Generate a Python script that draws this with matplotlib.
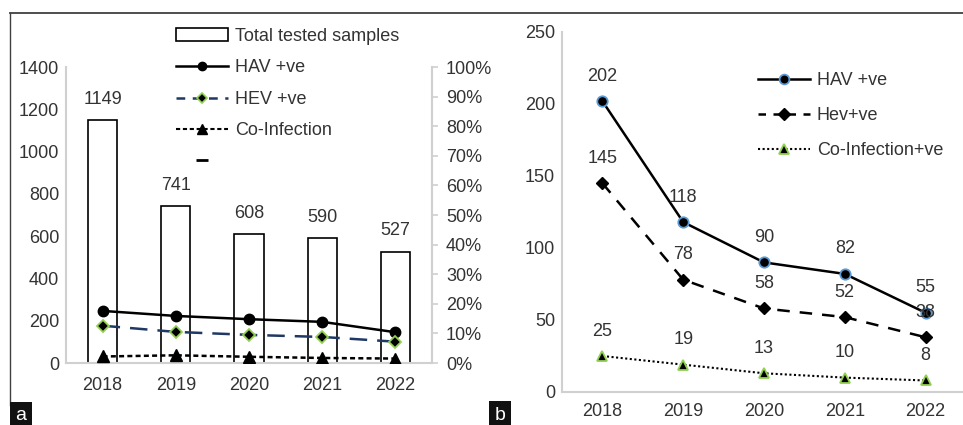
import matplotlib
matplotlib.use("Agg")
import matplotlib.pyplot as plt
from matplotlib.lines import Line2D
from matplotlib.patches import Patch

plt.rcParams['font.family'] = ['Liberation Sans', 'DejaVu Sans']

years = ["2018", "2019", "2020", "2021", "2022"]

# panel a
total_samples = [1149, 741, 608, 590, 527]
hav_pct = [17.6, 15.9, 14.8, 13.9, 10.4]
hev_pct = [12.6, 10.5, 9.5, 8.8, 7.2]
coinf_pct = [2.2, 2.6, 2.1, 1.7, 1.5]

# panel b
hav_pos = [202, 118, 90, 82, 55]
hev_pos = [145, 78, 58, 52, 38]
coinf_pos = [25, 19, 13, 10, 8]

W, H = 963, 425
TXT = "#333333"
SPINE = "#d0d0d0"
GREEN = "#92d050"
NAVY = "#1f3864"
FS = 13

fig = plt.figure(figsize=(W / 100, H / 100), dpi=100)


def fx(px):
    return px / W


def fy(py):
    return 1 - py / H


def style_axis(ax):
    for s in ["top", "right"]:
        ax.spines[s].set_visible(False)
    for s in ["left", "bottom"]:
        ax.spines[s].set_color(SPINE)
        ax.spines[s].set_linewidth(1.5)
    ax.tick_params(axis="both", length=0, labelsize=FS, colors=TXT)


# ---------- panel a ----------
ax1 = fig.add_axes([fx(66), fy(363), fx(432 - 66), fy(67) - fy(363)])
x = list(range(len(years)))
ax1.bar(x, total_samples, width=0.4, color="white", edgecolor="black",
        linewidth=1.2, zorder=1)
for xi, v in zip(x, total_samples):
    ax1.annotate(str(v), (xi, v), xytext=(0, 15), textcoords="offset points",
                 ha="center", va="center", fontsize=FS, color=TXT)
ax1.set_xlim(-0.5, 4.5)
ax1.set_ylim(0, 1400)
ax1.set_yticks(range(0, 1401, 200))
ax1.set_xticks(x)
ax1.set_xticklabels(years)
style_axis(ax1)
ax1.tick_params(axis="x", pad=10)
ax1.tick_params(axis="y", pad=5)

ax2 = ax1.twinx()
ax2.set_ylim(0, 100)
ax2.set_yticks(range(0, 101, 10))
ax2.set_yticklabels([f"{t}%" for t in range(0, 101, 10)])
for s in ["top", "left", "bottom"]:
    ax2.spines[s].set_visible(False)
ax2.spines["right"].set_color(SPINE)
ax2.spines["right"].set_linewidth(1.5)
ax2.tick_params(axis="y", length=4, width=1.2, color=SPINE, labelsize=FS,
                labelcolor=TXT, pad=6)

ax2.plot(x, hav_pct, color="black", lw=1.8, marker="o", ms=7.5,
         mfc="black", mec="black", zorder=4)
ax2.plot(x, hev_pct, color=NAVY, lw=1.8, dashes=(7, 4), marker="D", ms=6,
         mfc="black", mec=GREEN, mew=1.3, zorder=4)
ax2.plot(x, coinf_pct, color="black", lw=1.8, dashes=(2, 1.3), marker="^",
         ms=9, mfc="black", mec="black", zorder=4)

handles_a = [
    Patch(facecolor="white", edgecolor="black", linewidth=1.2),
    Line2D([], [], color="black", lw=1.8, marker="o", ms=6),
    Line2D([], [], color=NAVY, lw=1.8, dashes=(3.5, 3), marker="D", ms=5,
           mfc="black", mec=GREEN, mew=1.2),
    Line2D([], [], color="black", lw=1.5, dashes=(2, 1.3), marker="^", ms=7),
    Line2D([], [], color="black", marker="_", ms=8, mew=2, linestyle="none"),
]
labels_a = ["Total tested samples", "HAV +ve", "HEV +ve", "Co-Infection", ""]
fig.legend(handles_a, labels_a, loc="upper left",
           bbox_to_anchor=(fx(176), fy(28)), frameon=False, fontsize=FS,
           handlelength=2.9, handletextpad=0.35, labelspacing=0.8,
           borderpad=0, borderaxespad=0, labelcolor=TXT)

# ---------- panel b ----------
ax3 = fig.add_axes([fx(562), fy(392), fx(966 - 562), fy(32) - fy(392)])
ax3.plot(x, hav_pos, color="black", lw=1.8, marker="o", ms=7.5,
         mfc="black", mec="#5b9bd5", mew=1.3, zorder=4)
ax3.plot(x, hev_pos, color="black", lw=1.8, dashes=(5, 4), marker="D",
         ms=6, mfc="black", mec="black", zorder=4)
ax3.plot(x, coinf_pos, color="black", lw=1.5, dashes=(1, 1.2), marker="^",
         ms=7.5, mfc="black", mec=GREEN, mew=1.3, zorder=4)
for series in (hav_pos, hev_pos, coinf_pos):
    for xi, v in zip(x, series):
        ax3.annotate(str(v), (xi, v), xytext=(0, 18),
                     textcoords="offset points", ha="center", va="center",
                     fontsize=FS, color=TXT, zorder=5)
ax3.set_xlim(-0.5, 4.5)
ax3.set_ylim(0, 250)
ax3.set_yticks(range(0, 251, 50))
ax3.set_xticks(x)
ax3.set_xticklabels(years)
style_axis(ax3)
ax3.tick_params(axis="x", pad=8)
ax3.tick_params(axis="y", pad=5)

handles_b = [
    Line2D([], [], color="black", lw=1.8, marker="o", ms=7, mfc="black",
           mec="#5b9bd5", mew=1.3),
    Line2D([], [], color="black", lw=1.8, dashes=(3, 3), marker="D", ms=6),
    Line2D([], [], color="black", lw=1.5, dashes=(1, 1.2), marker="^", ms=7,
           mfc="black", mec=GREEN, mew=1.3),
]
labels_b = ["HAV +ve", "Hev+ve", "Co-Infection+ve"]
fig.legend(handles_b, labels_b, loc="upper left",
           bbox_to_anchor=(fx(758), fy(72)), frameon=False, fontsize=FS,
           handlelength=2.9, handletextpad=0.35, labelspacing=1.0,
           borderpad=0, borderaxespad=0, labelcolor=TXT)

# frame lines and panel letters
fig.add_artist(Line2D([fx(10), 1], [fy(12.5), fy(12.5)], color="#404040",
                      lw=1.3, transform=fig.transFigure))
fig.add_artist(Line2D([fx(10), fx(10)], [fy(12.5), fy(405)], color="#404040",
                      lw=1.0, transform=fig.transFigure))
fig.text(fx(21), fy(416), "a", color="white", fontsize=14, ha="center",
         va="center", bbox=dict(facecolor="#111111", edgecolor="none",
                                boxstyle="square,pad=0.3"))
fig.text(fx(500), fy(415), "b", color="white", fontsize=14, ha="center",
         va="center", bbox=dict(facecolor="#111111", edgecolor="none",
                                boxstyle="square,pad=0.3"))

fig.savefig("out.png", dpi=100)
